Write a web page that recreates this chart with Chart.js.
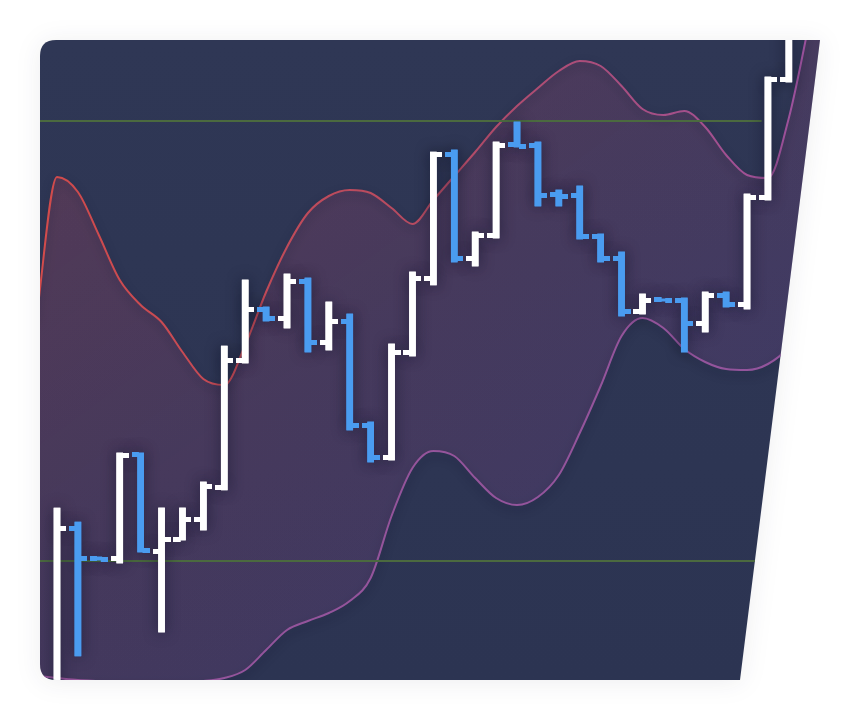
<!DOCTYPE html>
<html>
<head>
<meta charset="utf-8">
<title>OHLC with bands</title>
<script src="https://cdn.jsdelivr.net/npm/chart.js@4.4.1/dist/chart.umd.min.js"></script>
<style>
    html, body { margin: 0; padding: 0; background: #ffffff; }
    body { width: 858px; height: 720px; position: relative; overflow: hidden; }
    .card-shadow {
        position: absolute; left: 40px; top: 40px; width: 780px; height: 640px;
        filter: drop-shadow(0 2px 12px rgba(20, 25, 50, 0.08));
    }
    .card {
        width: 780px; height: 640px;
        background: linear-gradient(180deg, #2f3755 0%, #2c3452 100%);
        clip-path: path('M16 0 L780 0 L700 640 L16 640 Q0 640 0 624 L0 16 Q0 0 16 0 Z');
    }
    canvas { display: block; }
</style>
</head>
<body>
<div class="card-shadow"><div class="card"><canvas id="priceChart" width="780" height="640"></canvas></div></div>
<script>
// --- Data ---
const opens  = [-10, 152, 122, 122, 226, 129, 141, 161, 193, 320, 371, 362, 399, 338, 359, 255, 223, 328,
                402, 526, 422, 445, 536, 535, 486, 485, 444, 422, 369, 380.5, 380, 357, 385, 376, 483, 601];
const highs  = [172, 158, 123, 227, 227, 172, 172, 198, 334, 400, 373, 406, 402, 378, 366, 258, 336, 408,
                528, 530, 448, 538, 558, 538, 490, 494, 446, 428, 386, 381, 382, 388, 388, 486, 603, 690];
const lows   = [-20, 24, 120, 117, 128, 48, 140, 150, 190, 317, 359, 352, 328, 330, 250, 218, 220, 324,
                395, 418, 414, 442, 533, 474, 474, 441, 418, 364, 366, 379, 328, 348, 373, 371, 480, 598];
const closes = [152, 122, 121, 225, 130, 141, 161, 194, 320, 371, 362, 399, 338, 359, 255, 223, 328, 402,
                526, 422, 445, 535, 534, 485, 484, 444, 422, 369, 380, 379.5, 357, 385, 376, 483, 601, 670];

// band samples, x in bar-index units
const bandX     = [-1, 0, 1, 2, 3, 4, 5, 6, 7, 8, 9, 10, 11, 12, 13, 14, 15, 16, 17, 18,
                   19, 20, 21, 22, 23, 24, 25, 26, 27, 28, 29, 30, 31, 32, 33, 34, 35, 36, 37];
const upperBand = [360, 503, 488, 445, 400, 375, 358, 328, 301, 295, 335, 388, 433, 467, 484, 490, 487, 472, 456, 480,
                   504, 528, 553, 574, 592, 609, 619, 614, 594, 571, 565, 569, 553, 525, 505, 502, 562, 660, 760];
const lowerBand = [4, 2, 0, -1, -2, -2, -2, -2, -1, 2, 10, 30, 50, 59, 67, 79, 102, 164, 212, 229,
                   224, 202, 182, 175, 183, 205, 247, 294, 344, 362, 352, 331, 318, 311, 310, 316, 333, 365, 400];

// horizontal reference levels
const levels = [559, 119];
const levelFrom = -1;
const levelTo = 33.7;

const UP = '#ffffff';
const DOWN = '#4a9cf0';
const isUp = (i) => closes[i] >= opens[i];

// open / close ticks as small canvas point styles
function makeTick(color, side) {
    const c = document.createElement('canvas');
    c.width = 18;
    c.height = 5;
    const g = c.getContext('2d');
    g.fillStyle = color;
    g.fillRect(side === 'left' ? 0 : 11, 0, 7, 5);
    return c;
}
const ticks = {
    openUp: makeTick(UP, 'left'), openDown: makeTick(DOWN, 'left'),
    closeUp: makeTick(UP, 'right'), closeDown: makeTick(DOWN, 'right')
};

// shadows under marks, then redraw the OHLC marks crisp on top
const markShadow = {
    id: 'markShadow',
    beforeDatasetDraw(chart, args) {
        const ds = chart.data.datasets[args.index];
        if (!ds.shadow) return;
        const ctx = chart.ctx;
        ctx.save();
        ctx.shadowColor = ds.shadow.color;
        ctx.shadowBlur = ds.shadow.blur;
        ctx.shadowOffsetY = ds.shadow.offsetY || 0;
    },
    afterDatasetDraw(chart, args) {
        if (chart.data.datasets[args.index].shadow) chart.ctx.restore();
    },
    afterDatasetsDraw(chart) {
        chart.data.datasets.forEach((ds, i) => {
            if (!ds.ohlc) return;
            chart.getDatasetMeta(i).data.forEach(el => el.draw(chart.ctx, chart.chartArea));
        });
    }
};

function bandFill(context) {
    const area = context.chart.chartArea;
    if (!area) return 'rgba(170, 75, 120, 0.2)';
    const g = context.chart.ctx.createLinearGradient(area.left, area.top, area.left + area.width * 0.6, area.bottom);
    g.addColorStop(0, 'rgba(215, 70, 85, 0.24)');
    g.addColorStop(0.55, 'rgba(170, 75, 130, 0.2)');
    g.addColorStop(1, 'rgba(130, 80, 170, 0.2)');
    return g;
}

function upperStroke(context) {
    const area = context.chart.chartArea;
    if (!area) return '#b54b62';
    const g = context.chart.ctx.createLinearGradient(area.left, 0, area.right, 0);
    g.addColorStop(0, '#d24b4b');
    g.addColorStop(0.5, '#b54b62');
    g.addColorStop(1, '#9b52a0');
    return g;
}

const ohlcShadow = { color: 'rgba(12, 15, 35, 0.6)', blur: 14 };
const bandShadow = { color: 'rgba(12, 15, 35, 0.4)', blur: 10, offsetY: 4 };

const ctx = document.getElementById('priceChart').getContext('2d');
new Chart(ctx, {
    type: 'bar',
    data: {
        datasets: [
            {
                type: 'line',
                data: bandX.map((x, k) => ({ x, y: upperBand[k] })),
                borderColor: upperStroke,
                borderWidth: 2,
                backgroundColor: bandFill,
                fill: '+1',
                pointRadius: 0,
                cubicInterpolationMode: 'monotone',
                shadow: bandShadow,
                order: 5
            },
            {
                type: 'line',
                data: bandX.map((x, k) => ({ x, y: lowerBand[k] })),
                borderColor: '#94559c',
                borderWidth: 2,
                fill: false,
                pointRadius: 0,
                cubicInterpolationMode: 'monotone',
                shadow: bandShadow,
                order: 5
            },
            ...levels.map(v => ({
                type: 'line',
                data: [{ x: levelFrom, y: v }, { x: levelTo, y: v }],
                borderColor: '#4b6a3f',
                borderWidth: 2,
                pointRadius: 0,
                fill: false,
                order: 4
            })),
            {
                type: 'bar',
                data: highs.map((h, i) => ({ x: i, y: [lows[i], h] })),
                backgroundColor: highs.map((_, i) => isUp(i) ? UP : DOWN),
                barThickness: 6,
                borderWidth: 0,
                grouped: false,
                shadow: ohlcShadow,
                ohlc: true,
                order: 3
            },
            {
                type: 'line',
                showLine: false,
                data: opens.map((o, i) => ({ x: i, y: o })),
                pointStyle: opens.map((_, i) => isUp(i) ? ticks.openUp : ticks.openDown),
                pointRadius: 9,
                shadow: ohlcShadow,
                ohlc: true,
                order: 2
            },
            {
                type: 'line',
                showLine: false,
                data: closes.map((c, i) => ({ x: i, y: c })),
                pointStyle: closes.map((_, i) => isUp(i) ? ticks.closeUp : ticks.closeDown),
                pointRadius: 9,
                shadow: ohlcShadow,
                ohlc: true,
                order: 1
            }
        ]
    },
    options: {
        responsive: false,
        animation: false,
        events: [],
        layout: { padding: 0, autoPadding: false },
        plugins: {
            legend: { display: false },
            tooltip: { enabled: false }
        },
        scales: {
            x: { type: 'linear', min: -0.813, max: 36.49, offset: false, display: false },
            y: { type: 'linear', min: 0, max: 640, display: false }
        }
    },
    plugins: [markShadow]
});
</script>
</body>
</html>
